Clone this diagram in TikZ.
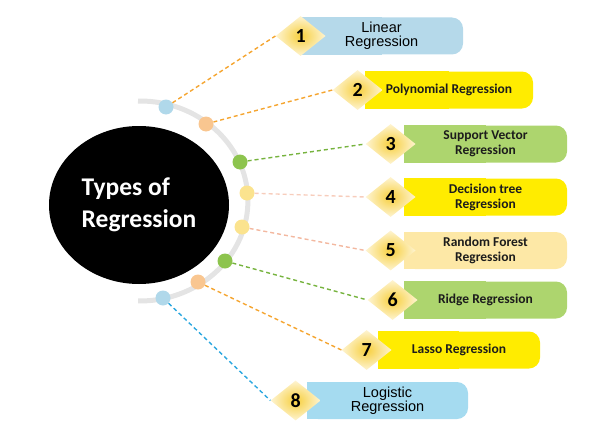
\documentclass[tikz,border=0pt]{standalone}
\usepackage{fontspec}
\setmainfont{Carlito}
\newfontfamily\arialfont{Liberation Sans}
\usetikzlibrary{shapes.geometric,positioning,backgrounds}

\definecolor{arcgray}{HTML}{E4E4E4}
\definecolor{boxblue}{HTML}{B5D9EA}
\definecolor{boxcyan}{HTML}{A5DBF0}
\definecolor{boxyellow}{HTML}{FFEC00}
\definecolor{boxgreen}{HTML}{ADD56E}
\definecolor{boxpale}{HTML}{FDE8A6}
\definecolor{dotblue}{HTML}{B0D8EA}
\definecolor{dotorange}{HTML}{F9C690}
\definecolor{dotgreen}{HTML}{8DC44E}
\definecolor{dotyellow}{HTML}{FBE38E}
\definecolor{linkorange}{HTML}{F5A530}
\definecolor{linkgreen}{HTML}{76B33E}
\definecolor{linksalmon}{HTML}{F3B8A0}
\definecolor{linkblue}{HTML}{2BA7DF}
\definecolor{numgold}{HTML}{F7CF3D}
\definecolor{numpale}{HTML}{FEF4D2}
\definecolor{regtext}{HTML}{1C1C1C}

\begin{document}
\begin{tikzpicture}[x=1pt, y=1pt,
    reg hub/.style={ellipse, fill=black, text=white, align=left, inner sep=0pt,
        minimum width=180pt, minimum height=158pt, font=\bfseries\fontsize{25.5}{32}\selectfont},
    reg dot/.style={circle, inner sep=0pt, minimum size=15pt},
    reg num/.style={diamond, aspect=1.25, inner sep=0pt, minimum width=50pt, minimum height=40pt,
        shading=radial, inner color=numgold, outer color=numpale, text=black,
        font=\bfseries\fontsize{20}{20}\selectfont},
    reg box/.style={rectangle, rounded corners=11pt, minimum height=37pt, inner sep=0pt,
        align=center, text=regtext, font=\bfseries\fontsize{13.5}{15}\selectfont},
    reg wide/.style={text=black, font=\arialfont\fontsize{14.5}{14}\selectfont},
    reg link/.style={dash pattern=on 4pt off 3pt, line width=1.4pt}]

    \useasboundingbox (0,0) rectangle (599,-436);

    % hub and arc
    \coordinate (arc top) at (138,-101);
    \draw [arcgray, line width=5pt] (arc top) arc [start angle=91, end angle=-91, x radius=108, y radius=100];
    \node [reg hub] (hub) at (139,-205) {Types of\\Regression};

    % dots on the arc
    \node [reg dot, fill=dotblue] (d1) at (166,-107) {};
    \node [reg dot, fill=dotorange] (d2) at (206,-124) {};
    \node [reg dot, fill=dotgreen] (d3) at (240,-162) {};
    \node [reg dot, fill=dotyellow] (d4) at (247,-193) {};
    \node [reg dot, fill=dotyellow] (d5) at (242,-227) {};
    \node [reg dot, fill=dotgreen] (d6) at (225,-261) {};
    \node [reg dot, fill=dotorange] (d7) at (198,-282) {};
    \node [reg dot, fill=dotblue] (d8) at (163,-298) {};

    % boxes
    \node [reg box, reg wide, fill=boxblue, minimum width=163pt] (b1) at (381.5,-36) {Linear\\Regression};
    \node [reg box, fill=boxyellow, minimum width=168pt] (b2) at (449,-90) {Polynomial Regression};
    \node [reg box, fill=boxgreen, minimum width=163pt] (b3) at (485.5,-144) {Support Vector\\Regression};
    \node [reg box, fill=boxyellow, minimum width=163pt] (b4) at (485.5,-197) {Decision tree\\Regression};
    \node [reg box, fill=boxpale, minimum width=163pt] (b5) at (485.5,-250.5) {Random Forest\\Regression};
    \node [reg box, fill=boxgreen, minimum width=163pt] (b6) at (485.5,-300) {Ridge Regression};
    \node [reg box, fill=boxyellow, minimum width=162pt] (b7) at (459,-350) {Lasso Regression};
    \node [reg box, reg wide, fill=boxcyan, minimum width=161pt] (b8) at (387.5,-400.5) {Logistic\\Regression};

    % square left ends
    \begin{scope}[on background layer]
        \fill [boxblue] (b1.north west) rectangle (b1.south);
        \fill [boxyellow] (b2.north west) rectangle (b2.south);
        \fill [boxgreen] (b3.north west) rectangle (b3.south);
        \fill [boxyellow] (b4.north west) rectangle (b4.south);
        \fill [boxpale] (b5.north west) rectangle (b5.south);
        \fill [boxgreen] (b6.north west) rectangle (b6.south);
        \fill [boxyellow] (b7.north west) rectangle (b7.south);
        \fill [boxcyan] (b8.north west) rectangle (b8.south);
    \end{scope}

    % number diamonds
    \node [reg num, left=-26pt of b1] (n1) {1};
    \node [reg num, left=-18pt of b2] (n2) {2};
    \node [reg num, left=-12pt of b3] (n3) {3};
    \node [reg num, left=-12pt of b4] (n4) {4};
    \node [reg num, left=-12pt of b5] (n5) {5};
    \node [reg num, left=-14pt of b6] (n6) {6};
    \node [reg num, left=-14pt of b7] (n7) {7};
    \node [reg num, left=-14pt of b8] (n8) {8};

    % dashed links
    \draw [reg link, linkorange] (d1) -- (n1.west);
    \draw [reg link, linkorange] (d2) -- (n2.west);
    \draw [reg link, linkgreen] (d3) -- (n3.west);
    \draw [reg link, linksalmon!70] (d4) -- (n4.west);
    \draw [reg link, linksalmon] (d5) -- (n5.west);
    \draw [reg link, linkgreen] (d6) -- (n6.west);
    \draw [reg link, linkorange] (d7) -- (n7.west);
    \draw [reg link, linkblue] (d8) -- (n8.west);
\end{tikzpicture}
\end{document}
